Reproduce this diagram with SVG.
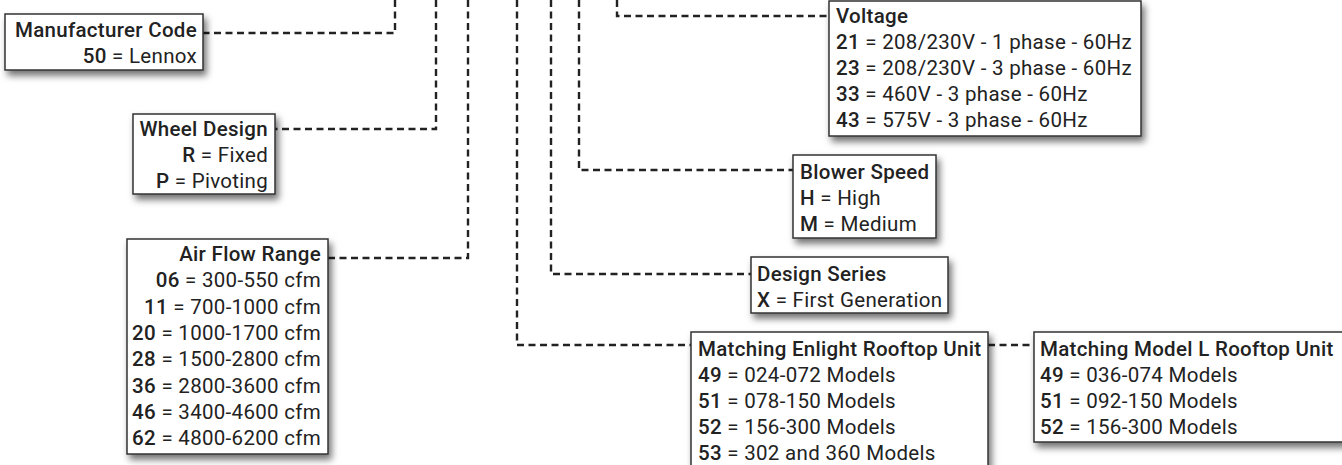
<svg xmlns="http://www.w3.org/2000/svg" width="1342" height="465" viewBox="0 0 1342 465">
<defs>
<filter id="sh" x="-10%" y="-10%" width="130%" height="140%">
<feDropShadow dx="3" dy="5" stdDeviation="3.5" flood-color="#000" flood-opacity="0.55"/>
</filter>
<style>
.box{fill:#fff;stroke:#333;stroke-width:1.5;filter:url(#sh)}
.t{font-family:Roboto,"Liberation Sans",sans-serif;font-size:20.5px;letter-spacing:0.3px;fill:#222}
.h{font-weight:500}
.k{font-weight:500}
.e{text-anchor:end}
.c{fill:none;stroke:#222;stroke-width:2.4;stroke-dasharray:7 4.5}
</style>
</defs>
<rect width="1342" height="465" fill="#fff"/>
<g id="connectors">
<path class="c" d="M395 0V33H203"/>
<path class="c" d="M436 0V129H275"/>
<path class="c" d="M468 0V258H328"/>
<path class="c" d="M517 0V345H691"/>
<path class="c" d="M551 0V274H751"/>
<path class="c" d="M579 0V170H793"/>
<path class="c" d="M617 0V16H829"/>
<path class="c" d="M988 345H1034"/>
</g>
<g id="manufacturer">
<rect class="box" x="5" y="14" width="198" height="56"/>
<text class="t h e" x="197" y="37">Manufacturer Code</text>
<text class="t e" x="197" y="63"><tspan class="k">50</tspan> = Lennox</text>
</g>
<g id="wheel">
<rect class="box" x="133" y="114" width="142" height="80"/>
<text class="t h e" x="268" y="136">Wheel Design</text>
<text class="t e" x="268" y="162"><tspan class="k">R</tspan> = Fixed</text>
<text class="t e" x="268" y="188"><tspan class="k">P</tspan> = Pivoting</text>
</g>
<g id="airflow">
<rect class="box" x="127" y="239" width="201" height="215"/>
<text class="t h e" x="321" y="261">Air Flow Range</text>
<text class="t e" x="321" y="287"><tspan class="k">06</tspan> = 300-550 cfm</text>
<text class="t e" x="321" y="314"><tspan class="k">11</tspan> = 700-1000 cfm</text>
<text class="t e" x="321" y="340"><tspan class="k">20</tspan> = 1000-1700 cfm</text>
<text class="t e" x="321" y="366"><tspan class="k">28</tspan> = 1500-2800 cfm</text>
<text class="t e" x="321" y="393"><tspan class="k">36</tspan> = 2800-3600 cfm</text>
<text class="t e" x="321" y="419"><tspan class="k">46</tspan> = 3400-4600 cfm</text>
<text class="t e" x="321" y="445"><tspan class="k">62</tspan> = 4800-6200 cfm</text>
</g>
<g id="voltage">
<rect class="box" x="829" y="1" width="312" height="135"/>
<text class="t h" x="836" y="23">Voltage</text>
<text class="t" x="836" y="49"><tspan class="k">21</tspan> = 208/230V - 1 phase - 60Hz</text>
<text class="t" x="836" y="75"><tspan class="k">23</tspan> = 208/230V - 3 phase - 60Hz</text>
<text class="t" x="836" y="101"><tspan class="k">33</tspan> = 460V - 3 phase - 60Hz</text>
<text class="t" x="836" y="127"><tspan class="k">43</tspan> = 575V - 3 phase - 60Hz</text>
</g>
<g id="blower">
<rect class="box" x="793" y="155" width="143" height="83"/>
<text class="t h" x="800" y="179">Blower Speed</text>
<text class="t" x="800" y="205"><tspan class="k">H</tspan> = High</text>
<text class="t" x="800" y="231"><tspan class="k">M</tspan> = Medium</text>
</g>
<g id="design">
<rect class="box" x="751" y="257" width="197" height="56"/>
<text class="t h" x="757" y="281">Design Series</text>
<text class="t" x="757" y="307"><tspan class="k">X</tspan> = First Generation</text>
</g>
<g id="enlight">
<rect class="box" x="691" y="332" width="297" height="150"/>
<text class="t h" x="698" y="356">Matching Enlight Rooftop Unit</text>
<text class="t" x="698" y="382"><tspan class="k">49</tspan> = 024-072 Models</text>
<text class="t" x="698" y="408"><tspan class="k">51</tspan> = 078-150 Models</text>
<text class="t" x="698" y="434"><tspan class="k">52</tspan> = 156-300 Models</text>
<text class="t" x="698" y="460"><tspan class="k">53</tspan> = 302 and 360 Models</text>
</g>
<g id="modell">
<rect class="box" x="1034" y="332" width="320" height="110"/>
<text class="t h" x="1040" y="356">Matching Model L Rooftop Unit</text>
<text class="t" x="1040" y="382"><tspan class="k">49</tspan> = 036-074 Models</text>
<text class="t" x="1040" y="408"><tspan class="k">51</tspan> = 092-150 Models</text>
<text class="t" x="1040" y="434"><tspan class="k">52</tspan> = 156-300 Models</text>
</g>
</svg>
